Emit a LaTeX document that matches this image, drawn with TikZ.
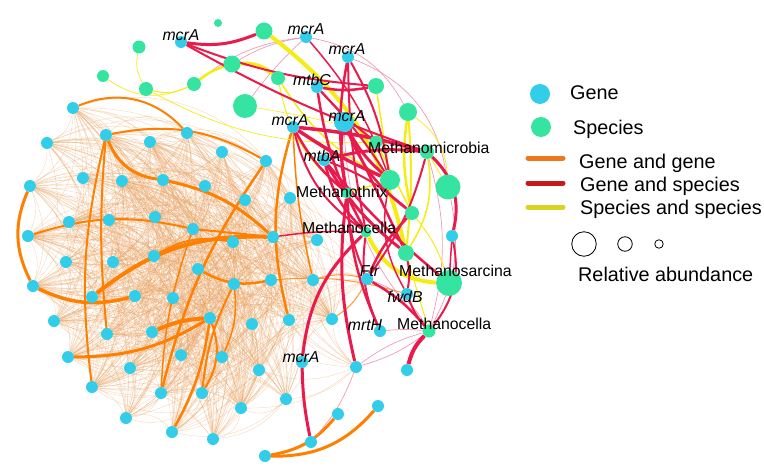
\documentclass[tikz,border=0pt]{standalone}
\usepackage{fontspec}
\setmainfont{Liberation Sans}
\definecolor{genec}{RGB}{50,205,232}
\definecolor{specc}{RGB}{52,228,160}
\definecolor{orc}{RGB}{255,128,0}
\definecolor{redc}{RGB}{234,26,76}
\definecolor{yelc}{RGB}{245,236,20}
\definecolor{hairc}{RGB}{232,160,95}
\definecolor{pinkc}{RGB}{238,130,160}
\definecolor{lgor}{RGB}{238,120,30}
\definecolor{lgred}{RGB}{200,26,26}
\definecolor{lgyel}{RGB}{220,210,35}
\pgfdeclarelayer{bg}
\pgfsetlayers{bg,main}
\tikzset{
  gene/.style={circle,fill=genec,inner sep=0pt,minimum size=12pt},
  spec/.style={circle,fill=specc,inner sep=0pt},
  hair/.style={draw=hairc,line width=0.45pt,opacity=0.38},
  ot/.style={draw=orc,line width=3pt},
  otl/.style={draw=orc,line width=1pt,opacity=0.8},
  rd/.style={draw=redc,line width=3pt},
  pk/.style={draw=pinkc,line width=0.7pt,opacity=0.8},
  yl/.style={draw=yelc,line width=2pt},
  lbl/.style={font=\fontsize{15.8}{18}\selectfont\itshape,inner sep=0pt,anchor=base},
  sl/.style={font=\fontsize{15.8}{18}\selectfont,inner sep=0pt,anchor=base west},
  lt/.style={font=\fontsize{19.8}{22}\selectfont,inner sep=0pt,anchor=base west},
  lline/.style={line width=5pt,line cap=round},
  abund/.style={circle,draw=black,line width=0.8pt,inner sep=0pt,fill=white}
}
\begin{document}
\begin{tikzpicture}[x=1pt,y=-1pt]
\useasboundingbox (0,0) rectangle (764,474);
% cluster genes
\foreach \n/\x/\y in {1/73/108,2/106/135,3/187/133,4/47/143,5/150/142,6/222/152,7/266/161,8/30/186,9/83/178,10/122/181,11/163/180,12/205/186,13/245/200,14/290/198,15/69/222,16/109/220,17/155/217,18/193/229,19/273/237,20/28/236,21/233/242,22/66/262,23/113/262,24/154/256,25/198/269,26/271/280,27/234/284,28/33/286,29/92/297,30/135/296,31/173/298,32/210/318,33/54/321,34/107/334,35/152/332,36/252/324,37/289/320,38/68/357,39/130/368,40/181/355,41/222/357,42/259/370,43/92/387,44/161/393,45/202/393,46/286/399,47/126/418,48/241/408,49/172/432,50/213/439,51/317/240,52/313/280,53/332/319}
  {\node[gene] (c\n) at (\x,\y) {};}
% other genes
\foreach \n/\x/\y in {m1/181/42,m2/306/37,m3/348/57,mc/317/87,m4/293/127,ma/324/160,g1/452/236,ftr/367/279,fwd/407/294,mrt/380/331,m6/302/362,g2/356/367,g3/407/370,b3/338/414,b4/378/406,b6/311/442,b5/265/456}
  {\node[gene] (\n) at (\x,\y) {};}
\node[gene,minimum size=20pt] (m5) at (344,122) {};
% species
\foreach \n/\x/\y/\d in {1/218/23/8,2/264/31/17,3/139/47/13,4/103/76/12,5/232/64/17,6/278/78/14,7/194/84/14,8/146/89/14,9/376/86/16,10/245/106/24,11/408/112/18,12/376/142/13,13/427/152/14,14/390/180/20,15/448/187/25,16/347/193/11,17/412/213/14,18/366/232/11,19/406/253/16,20/449/283/26,21/429/331/13}
  {\node[spec,minimum size=\d pt] (s\n) at (\x,\y) {};}

\begin{pgfonlayer}{bg}
% hairball of weak gene-gene links
\foreach \i in {1,...,52}{
  \pgfmathtruncatemacro\st{\i+1}
  \foreach \j in {\st,...,53}{
    \pgfmathtruncatemacro\r{mod(\i*\j+2*\i+5*\j,5)}
    \pgfmathtruncatemacro\bb{22+mod(\i+3*\j,4)*6}
    \ifnum\r<3 \draw[hair] (c\i) to[bend left=\bb] (c\j);\fi
  }
}
\foreach \k in {19,26,36,37,42,46,48,53,52,14,21,13}{
  \draw[hair] (c\k) to[bend left=20] (ftr);
  \draw[hair] (c\k) to[bend right=20] (g2);
}
% strong gene-gene links
\draw[ot] (c8) to[bend right=25] (c28);
\draw[ot] (c2) to[bend right=30] (c11);
\draw[ot] (c11) to[bend left=15] (c19);
\draw[ot,line width=2pt] (c2) to[bend right=10] (c43);
\draw[ot,line width=2pt] (c2) to[bend right=5] (c34);
\draw[ot,line width=2pt] (c1) to[bend left=35] (c3);
\draw[ot,line width=2pt] (c2) to[bend left=20] (c7);
\draw[ot,line width=2pt] (c20) to[bend left=15] (c18);
\draw[ot,line width=4pt] (c29) to[bend left=20] (c19);
\draw[ot,line width=3.5pt] (c28) to[bend right=20] (c30);
\draw[ot,line width=3pt] (c38) to[bend right=15] (c32);
\draw[ot,line width=4pt] (c35) to[bend left=10] (c32);
\draw[ot,line width=2.5pt] (c7) to[bend right=10] (c44);
\draw[ot,line width=2.5pt] (c32) to[bend left=10] (c49);
\draw[ot,line width=2pt] (c27) to[bend right=10] (c45);
\draw[ot,line width=2.5pt] (c25) to[bend right=20] (c26);
\draw[ot,line width=2pt] (c18) to (c19);
\draw[ot,line width=2pt] (c32) to[bend left=25] (c45);
\draw[ot,line width=2pt] (c21) to[bend right=20] (c24);
\draw[ot,line width=1.5pt] (c27) to[bend left=15] (c41);
\draw[ot,line width=1.5pt] (c18) to[bend right=8] (c44);
\draw[ot,line width=2.5pt] (m4) to[bend right=15] (c37);
\draw[ot,line width=1.5pt] (m4) to[bend right=5] (c52);
\draw[otl] (c52) to[bend left=15] (ftr);
\draw[otl] (c53) to[bend right=15] (ftr);
\draw[otl] (c26) to[bend left=10] (fwd);
\draw[ot,line width=3pt] (b5) to[bend right=20] (b3);
\draw[ot,line width=3pt] (b5) to[bend right=25] (b4);
% weak gene-species links
\draw[pk] (m2) to[bend right=10] (s5);
\draw[pk] (m2) to[bend right=15] (s7);
\draw[pk] (m2) to[bend left=25] (s11);
\draw[pk] (m2) to[bend right=5] (s10);
\draw[pk] (m3) to[bend left=30] (s15);
\draw[pk] (m5) to[bend right=20] (s21);
\draw[pk] (s21) to[bend left=10] (g2);
\draw[pk] (s21) to[bend right=10] (g2);
\draw[pk] (s21) to[bend right=5] (mrt);
\draw[pk] (g2) to[bend left=10] (b6);
\draw[pk] (s15) to[bend left=20] (s21);
\draw[pk] (s13) to[bend left=15] (s21);
\draw[pk] (ftr) to[bend left=20] (s21);
% species-species links
\draw[yl,line width=0.7pt] (s3) to[bend right=20] (s8);
\draw[yl,line width=0.7pt] (s4) to[bend right=30] (s7);
\draw[yl,line width=1pt] (s8) to[bend right=20] (s7);
\draw[yl,line width=0.7pt] (s8) to[bend right=15] (s12);
\draw[yl,line width=0.6pt] (s10) to[bend left=5] (s13);
\draw[yl,line width=2.5pt] (s7) to[bend left=10] (s5);
\draw[yl,line width=4pt] (s5) to[bend left=20] (s6);
\draw[yl,line width=4pt] (s2) to[bend left=20] (s19);
\draw[yl,line width=4pt] (s18) to[bend right=30] (s20);
\draw[yl,line width=2.5pt] (s11) to[bend right=10] (s17);
\draw[yl,line width=2pt] (s11) to[bend left=5] (s19);
\draw[yl,line width=1.5pt] (s9) to (s14);
\draw[yl,line width=1.5pt] (s6) to[bend right=15] (s14);
\draw[yl,line width=1.5pt] (s16) to (s14);
\draw[yl,line width=1.5pt] (s12) to (s17);
\draw[yl,line width=1.5pt] (s13) to[bend left=20] (s19);
\draw[yl,line width=1pt] (s17) to[bend left=10] (s20);
\draw[yl,line width=0.7pt] (s11) to[bend left=25] (s15);
\draw[yl,line width=1pt] (s19) to (s21);
\draw[yl,line width=0.7pt] (s13) to (s15);
\draw[yl,line width=1pt] (s6) to[bend right=20] (s16);
% strong gene-species links
\draw[rd] (m1) to[bend right=15] (s2);
\draw[rd,line width=2pt] (m1) to[bend right=8] (s9);
\draw[rd,line width=2pt] (m1) to[bend right=5] (s13);
\draw[rd,line width=3.5pt] (m4) to[bend left=5] (s13);
\draw[rd,line width=3.5pt] (m4) to[bend right=5] (s14);
\draw[rd,line width=2pt] (m4) to[bend right=20] (s18);
\draw[rd,line width=2.5pt] (m4) to[bend right=10] (s16);
\draw[rd] (ma) to[bend left=10] (s13);
\draw[rd] (ma) to[bend right=10] (s19);
\draw[rd,line width=2.5pt] (ma) to[bend right=5] (s20);
\draw[rd,line width=2.5pt] (ma) to[bend right=15] (s18);
\draw[rd,line width=2pt] (ma) to[bend left=10] (s17);
\draw[rd] (m5) to[bend right=10] (s14);
\draw[rd,line width=2.5pt] (m5) to[bend right=15] (s17);
\draw[rd,line width=2.5pt] (m5) to (s19);
\draw[rd,line width=2.5pt] (m5) to[bend right=10] (s16);
\draw[rd,line width=2.5pt] (m3) to[bend right=10] (s16);
\draw[rd,line width=2pt] (m3) to[bend left=10] (s14);
\draw[rd,line width=2pt] (m3) to[bend right=5] (s18);
\draw[rd,line width=2.5pt] (mc) to[bend right=10] (s9);
\draw[rd,line width=2.5pt] (mc) to[bend right=10] (s18);
\draw[rd,line width=2pt] (mc) to[bend left=5] (s14);
\draw[rd,line width=2pt] (mc) to[bend right=5] (s12);
\draw[rd,line width=1.5pt] (c19) to[bend left=5] (s18);
\draw[rd] (s13) to[bend left=30] (g1);
\draw[rd,line width=2pt] (g1) to[bend left=25] (s21);
\draw[rd,line width=1.5pt] (g1) to (s20);
\draw[rd,line width=4pt] (s21) to[bend right=15] (g3);
\draw[rd,line width=2.5pt] (s21) to[bend right=10] (ftr);
\draw[rd,line width=2pt] (s21) to[bend left=10] (fwd);
\draw[rd] (s16) to[bend right=10] (g2);
\draw[rd] (s18) to[bend right=20] (m6);
\draw[rd] (m6) to[bend right=5] (b6);
\draw[rd,line width=2.5pt] (ftr) to[bend left=10] (s17);
\draw[rd,line width=2pt] (ftr) to[bend right=10] (s13);
\draw[rd,line width=2pt] (ftr) to[bend left=10] (s16);
\draw[rd,line width=2pt] (mrt) to[bend left=15] (s18);
\draw[rd,line width=2.5pt] (mrt) to[bend left=10] (s16);
\draw[rd,line width=2pt] (fwd) to[bend right=10] (s19);
\draw[rd,line width=1.5pt] (fwd) to[bend left=20] (s14);
\draw[rd,line width=1.5pt] (m2) to[bend left=10] (s14);
\end{pgfonlayer}

% labels
\node[lbl] (l1) at (181,40.5) {mcrA};
\node[lbl] (l2) at (306,34.5) {mcrA};
\node[lbl] (l3) at (347,54.5) {mcrA};
\node[lbl] (l4) at (312,85.5) {mtbC};
\node[lbl] (l5) at (290,125.5) {mcrA};
\node[lbl] (l6) at (347,121.5) {mcrA};
\node[lbl] (l7) at (322,161.5) {mtbA};
\node[lbl] (l8) at (369.5,276.5) {Ftr};
\node[lbl] (l9) at (405,302.5) {fwdB};
\node[lbl] (l10) at (365,330.5) {mrtH};
\node[lbl] (l11) at (301,362.5) {mcrA};
\node[sl] (t1) at (368,153.5) {Methanomicrobia};
\node[sl] (t2) at (296,197.5) {Methanothrix};
\node[sl] (t3) at (302,233.5) {Methanocella};
\node[sl] (t4) at (399,276.5) {Methanosarcina};
\node[sl] (t5) at (397,329.5) {Methanocella};

% legend
\node[gene,minimum size=20pt] (lg1) at (540,94) {};
\node[lt] (lgt1) at (570,99) {Gene};
\node[spec,minimum size=20pt] (lg2) at (541,127) {};
\node[lt] (lgt2) at (573,134) {Species};
\coordinate (la1) at (528,158); \coordinate (lb1) at (563,158);
\coordinate (la2) at (528,183); \coordinate (lb2) at (563,183);
\coordinate (la3) at (528,207); \coordinate (lb3) at (563,207);
\draw[lline,lgor] (la1) -- (lb1);
\draw[lline,lgred] (la2) -- (lb2);
\draw[lline,lgyel] (la3) -- (lb3);
\node[lt] (lgt3) at (579,168) {Gene and gene};
\node[lt] (lgt4) at (580,191) {Gene and species};
\node[lt] (lgt5) at (580,214) {Species and species};
\node[abund,minimum size=24.5pt] (ab1) at (584,244) {};
\node[abund,minimum size=14.5pt] (ab2) at (625,244) {};
\node[abund,minimum size=8.5pt] (ab3) at (659,244) {};
\node[lt] (lgt6) at (578,281) {Relative abundance};
\end{tikzpicture}
\end{document}
